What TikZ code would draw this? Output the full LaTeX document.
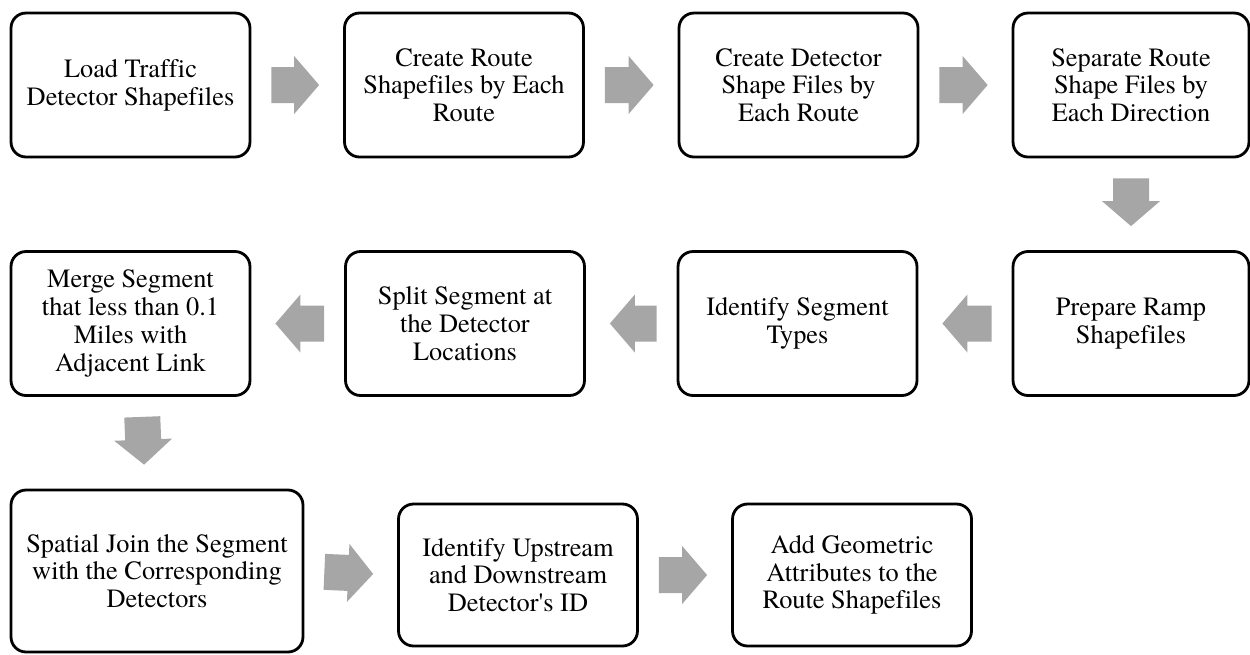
\documentclass[tikz,border=0pt]{standalone}
\usepackage{fontspec}
\setmainfont{texgyretermes}[Extension=.otf, UprightFont=*-regular, BoldFont=*-bold, ItalicFont=*-italic, BoldItalicFont=*-bolditalic, Ligatures={NoCommon}]
\usepackage{xcolor}
\usepackage{tikz}
\usetikzlibrary{calc}
\usetikzlibrary{positioning}
\definecolor{arrowgray}{RGB}{166,166,166}
\tikzstyle{procbox} = [rectangle, draw=black, line width=1.6pt, rounded corners=0.3cm, align=center, inner sep=0pt, minimum width=4.78cm, minimum height=2.88cm, font=\fontsize{15}{15.8}\selectfont]
\newcommand{\blockarrow}[2]{%
  \coordinate (tl) at ($(#1)!0.4cm!(#2)$);
  \coordinate (tp) at ($(#2)!0.48cm!(#1)$);
  \coordinate (hb) at ($(tp)!0.5cm!(tl)$);
  \fill [arrowgray] ($(tl)!0.36cm!90:(tp)$) -- ($(hb)!0.36cm!-90:(tl)$) -- ($(hb)!0.58cm!-90:(tl)$) -- (tp)
    -- ($(hb)!0.58cm!90:(tl)$) -- ($(hb)!0.36cm!90:(tl)$) -- ($(tl)!0.36cm!-90:(tp)$) -- cycle;}

\begin{document}
\begin{tikzpicture}[x=0.02cm, y=-0.02cm]
\useasboundingbox (0, 0) rectangle (1250, 654);
\node [procbox] (b1) at (130.5, 85) {Load Traffic\\Detector Shapefiles};
\node [procbox] (b2) at (464, 85) {Create Route\\Shapefiles by Each\\Route};
\node [procbox] (b3) at (798.5, 85) {Create Detector\\Shape Files by\\Each Route};
\node [procbox, minimum width=4.72cm] (b4) at (1131, 85) {Separate Route\\Shape Files by\\Each Direction};
\node [procbox, minimum width=4.72cm] (b8) at (1131, 323.5) {Prepare Ramp\\Shapefiles};
\node [procbox] (b7) at (797.5, 323.5) {Identify Segment\\Types};
\node [procbox] (b6) at (465, 323.5) {Split Segment at\\the Detector\\Locations};
\node [procbox] (b5) at (130.5, 323.5) {Merge Segment\\that less than 0.1\\Miles with\\Adjacent Link};
\node [procbox, minimum width=5.84cm, minimum height=3.24cm] (b9) at (157, 571) {Spatial Join the Segment\\with the Corresponding\\Detectors};
\node [procbox, minimum height=2.84cm] (b10) at (518, 575) {Identify Upstream\\and Downstream\\Detector\textquotesingle s ID};
\node [procbox, minimum height=2.84cm] (b11) at (852, 575) {Add Geometric\\Attributes to the\\Route Shapefiles};
\coordinate (m5) at ($(b5.south)+(11, 0)$);
\coordinate (m9) at ($(b9.north)+(-12, 0)$);
\blockarrow{b1.east}{b2.west}
\blockarrow{b2.east}{b3.west}
\blockarrow{b3.east}{b4.west}
\blockarrow{b4.south}{b8.north}
\blockarrow{b8.west}{b7.east}
\blockarrow{b7.west}{b6.east}
\blockarrow{b6.west}{b5.east}
\blockarrow{m5}{m9}
\blockarrow{b9.east}{b10.west}
\blockarrow{b10.east}{b11.west}
\end{tikzpicture}
\end{document}
